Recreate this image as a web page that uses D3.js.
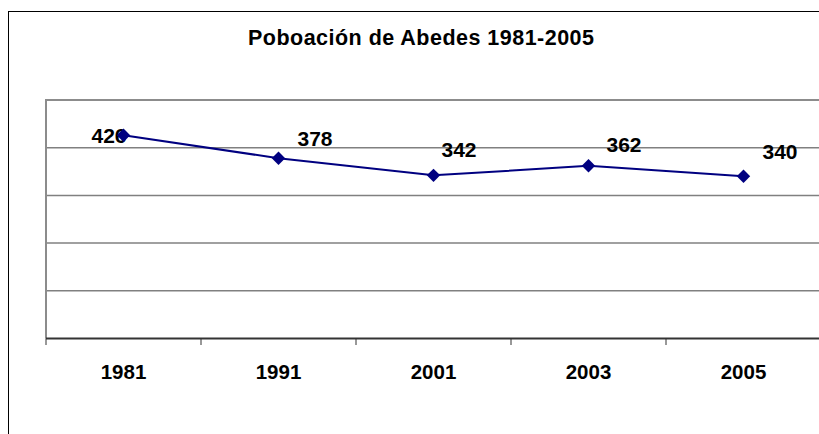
<!DOCTYPE html>
<head>
<meta charset="utf-8">
<style>
    body { margin: 0; background: #fff; }
    text { font-family: "Liberation Sans", Arial, sans-serif; font-weight: bold; fill: #000; }
</style>
</head>
<body>
    <script src="https://d3js.org/d3.v7.min.js"></script>
    <script>

    ////////// DATA //////////

    const years = ['1981', '1991', '2001', '2003', '2005'];
    const population = [426, 378, 342, 362, 340];
    const yTicks = [100, 200, 300, 400];
    const title = 'Poboación de Abedes 1981-2005';

    // hand-placed label offsets (from the point, to the label baseline start)
    const labelDx = [-32, 19, 8, 18, 19];
    const labelDy = [8, -12, -18, -14, -17];

    ////////// SETUP //////////

    const W = 819, H = 434;
    const plot = { left: 46, top: 100, right: 821, bottom: 338.5 };

    const svg = d3.select('body').append('svg')
        .attr('width', W)
        .attr('height', H);

    // chart frame
    svg.append('rect')
        .attr('x', 8.5).attr('y', 11.5)
        .attr('width', 830).attr('height', 440)
        .attr('fill', '#fff')
        .attr('stroke', '#000')
        .attr('stroke-width', 1);

    svg.append('text')
        .attr('x', 421).attr('y', 45)
        .attr('text-anchor', 'middle')
        .attr('font-size', 21.5)
        .attr('textLength', 346)
        .attr('lengthAdjust', 'spacing')
        .text(title);

    const x = d3.scaleBand().domain(years).range([plot.left, plot.right]);
    const y = d3.scaleLinear().domain([0, 500]).range([plot.bottom, plot.top]);

    ////////// GRID //////////

    svg.append('g').selectAll('line').data(yTicks)
        .enter().append('line')
            .attr('x1', plot.left).attr('x2', W + 5)
            .attr('y1', d => y(d)).attr('y2', d => y(d))
            .attr('stroke', '#808080')
            .attr('stroke-width', 1.5);

    // plot area border (top + left)
    svg.append('path')
        .attr('d', `M${W + 5},${plot.top}H${plot.left}V${plot.bottom}`)
        .attr('fill', 'none')
        .attr('stroke', '#8c8c8c')
        .attr('stroke-width', 2);

    ////////// AXIS //////////

    const xAxis = svg.append('g')
        .attr('transform', `translate(0,${plot.bottom})`)
        .call(d3.axisBottom(x).tickSize(0).tickPadding(0).tickFormat(''));
    xAxis.select('.domain').remove();

    xAxis.append('line')
        .attr('x1', plot.left).attr('x2', W + 5)
        .attr('stroke', '#333').attr('stroke-width', 2);

    const bounds = years.map(d => x(d)).concat([plot.right]);
    xAxis.selectAll('.tk').data(bounds)
        .enter().append('line')
            .attr('class', 'tk')
            .attr('x1', d => d).attr('x2', d => d)
            .attr('y1', 0).attr('y2', 6.5)
            .attr('stroke', '#333').attr('stroke-width', 1);

    xAxis.selectAll('.yr').data(years)
        .enter().append('text')
            .attr('class', 'yr')
            .attr('x', d => x(d) + x.bandwidth() / 2)
            .attr('y', 40.5)
            .attr('text-anchor', 'middle')
            .attr('font-size', 20.5)
            .text(d => d);

    ////////// SERIES //////////

    const pts = years.map((d, i) => ({ year: d, v: population[i], i: i }));
    const cx = d => x(d.year) + x.bandwidth() / 2;

    svg.append('g').selectAll('text').data(pts)
        .enter().append('text')
            .attr('x', d => cx(d) + labelDx[d.i])
            .attr('y', d => y(d.v) + labelDy[d.i])
            .attr('font-size', 21)
            .text(d => d.v);

    svg.append('path')
        .datum(pts)
        .attr('d', d3.line().x(cx).y(d => y(d.v)))
        .attr('fill', 'none')
        .attr('stroke', '#000080')
        .attr('stroke-width', 2);

    svg.append('g').selectAll('path').data(pts)
        .enter().append('path')
            .attr('d', d3.symbol().type(d3.symbolSquare).size(90))
            .attr('transform', d => `translate(${cx(d)},${y(d.v)}) rotate(45)`)
            .attr('fill', '#000080');

    </script>
</body>
